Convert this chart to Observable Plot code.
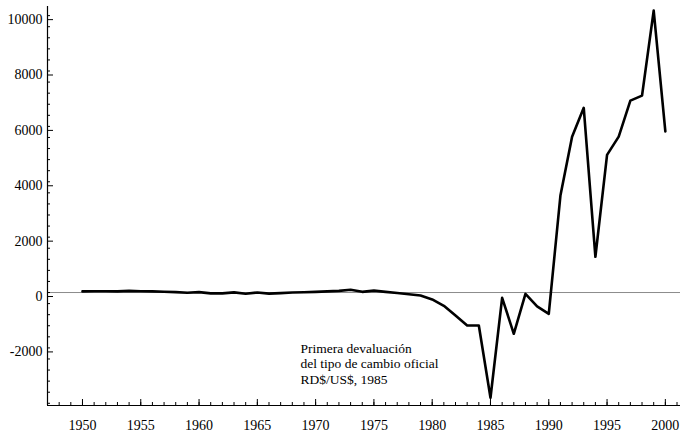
<!DOCTYPE html>
<html><head><meta charset="utf-8">
<script src="https://cdn.jsdelivr.net/npm/d3@7"></script>
<script src="https://cdn.jsdelivr.net/npm/@observablehq/plot@0.6"></script>
<style>body{margin:0;background:#fff}</style>
</head><body><div id="chart"></div>
<script>
const years = d3.range(1950, 2001);
const values = [
  40, 45, 45, 40, 60, 45, 40, 30, 15, -10,
  15, -30, -30, 5, -45, 0, -40, -20, 0, 10,
  25, 40, 60, 100, 25, 70, 25, -20, -60, -110,
  -250, -480, -830, -1190, -1190, -3800, -190, -1490, -50, -500,
  -770, 3500, 5630, 6670, 1290, 4970, 5630, 6930, 7110, 10180,
  5820
];
const xDomain = [1947, 2001.3];
const yDomain = [-4080, 10330];
const xMajor = [1950, 1955, 1960, 1965, 1970, 1975, 1980, 1985, 1990, 1995, 2000];
const xMinor = d3.range(1948, 2002);
const yMajor = [-2000, 0, 2000, 4000, 6000, 8000, 10000];
const yMinor = d3.range(-4000, 10001, 400);
const annotX = [1968.7];
const annotY = [-2560];
const annotText = ["Primera devaluación\ndel tipo de cambio oficial\nRD$/US$, 1985"];

const data = years.map((year, i) => ({year, value: values[i]}));
const annot = annotX.map((x, i) => ({x, y: annotY[i], text: annotText[i]}));

const chart = Plot.plot({
  width: 680, height: 437,
  marginLeft: 47, marginRight: 0, marginTop: 6, marginBottom: 32,
  style: {fontFamily: "'Liberation Serif', 'Times New Roman', serif", fontSize: "14px", background: "#fff", color: "#000"},
  x: {domain: xDomain, label: null},
  y: {domain: yDomain, label: null},
  marks: [
    Plot.ruleY([0], {stroke: "#8c8c8c", strokeWidth: 1}),
    Plot.line(data, {x: "year", y: "value", stroke: "#000", strokeWidth: 2.6}),
    Plot.ruleX([xDomain[0]], {stroke: "#000", strokeWidth: 1.2}),
    Plot.ruleY([yDomain[0]], {stroke: "#000", strokeWidth: 1.2}),
    Plot.axisX({ticks: xMinor, tickSize: -3, tickFormat: () => "", label: null}),
    Plot.axisX({ticks: xMajor, tickSize: -6, tickPadding: 21, tickFormat: d => String(d), label: null}),
    Plot.axisY({ticks: yMinor, tickSize: -3, tickFormat: () => "", label: null}),
    Plot.axisY({ticks: yMajor, tickSize: -6, tickPadding: 11, tickFormat: d => String(d), label: null, dy: 4}),
    Plot.text(annot, {x: "x", y: "y", text: "text", textAnchor: "start", lineAnchor: "middle", fontSize: 13.5, lineHeight: 1.16})
  ]
});
document.getElementById("chart").appendChild(chart);
</script>
</body></html>
